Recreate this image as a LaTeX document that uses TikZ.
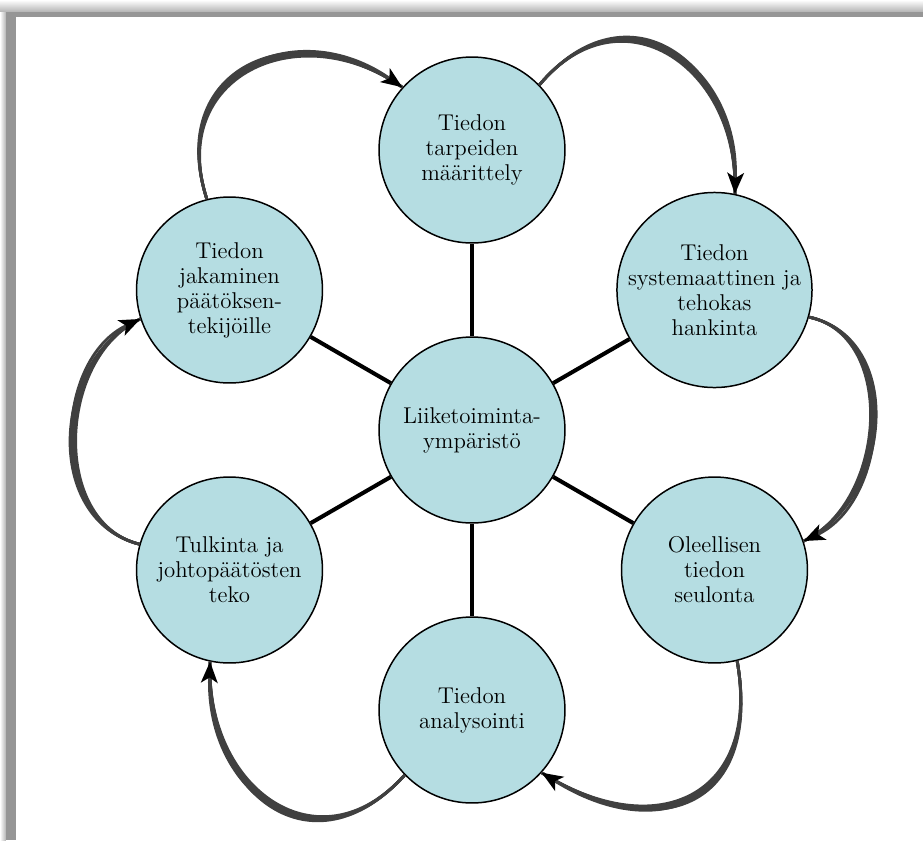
\documentclass[tikz,border=0pt]{standalone}
\usetikzlibrary{arrows.meta,shadings}

\begin{document}
\begin{tikzpicture}[x=0.02cm,y=0.02cm]

\newcommand{\kaari}[5]{%
  \foreach \dl in {-0.045,-0.015,0.015,0.045}
    \draw[kaariohut] (#1) to[out=#3,in=#4,looseness=#5+\dl] (#2);
  \draw[kaaristl] (#1) to[out=#3,in=#4,looseness=#5] (#2);
}

  \definecolor{ympcol}{RGB}{181,221,226}
  \definecolor{kaaricol}{RGB}{64,64,64}
  \definecolor{randcol}{RGB}{150,150,150}

 \tikzset{
      vaihestl/.style={circle,draw=black,line width=0.85pt,fill=ympcol,
        minimum size=3.72cm,inner sep=0pt,align=center,
        font=\fontsize{13}{14.2}\selectfont},
      puolastl/.style={line width=2.3pt,black},
      kaaristl/.style={line width=1.6pt,kaaricol,
        -{Stealth[length=12pt,width=9.5pt,inset=3pt,color=black]}},
      kaariohut/.style={line width=1.6pt,kaaricol},
    }

 % frame with a soft shadow along the top and left
 \useasboundingbox (-472,-410) rectangle (451,430);
 \shade[top color=white,bottom color=gray!60] (-472,418) rectangle (451,430);
 \shade[left color=white,right color=gray!60] (-472,-410) rectangle (-466,418);
 \fill[randcol] (-466,-410) rectangle (451,418);
 \fill[white] (-456,-410) rectangle (451,413);

 \node[vaihestl] (ymp) at (0,0) {Liiketoiminta-\\ympäristö};

 \node[vaihestl] (t0) at (90:280) {Tiedon\\tarpeiden\\määrittely};
 \node[vaihestl] (t1) at (30:280) {Tiedon\\systemaattinen ja\\tehokas\\hankinta};
 \node[vaihestl] (t2) at (-30:280) {Oleellisen\\tiedon\\seulonta};
 \node[vaihestl] (t3) at (-90:280) {Tiedon\\analysointi};
 \node[vaihestl] (t4) at (-150:280) {Tulkinta ja\\johtopäätösten\\teko};
 \node[vaihestl] (t5) at (150:280) {Tiedon\\jakaminen\\päätöksen-\\tekijöille};

 \foreach \t in {t0,t1,t2,t3,t4,t5}
   \draw[puolastl] (ymp) -- (\t);

 % the cycle round the outside
 \kaari{t0.44}{t1.78}{50}{88}{1.5}
 \kaari{t1.-16}{t2.18}{-12}{25}{1.08}
 \kaari{t2.-76}{t3.-42}{-80}{-32}{1.6}
 \kaari{t3.-136}{t4.-102}{-132}{-92}{1.5}
 \kaari{t4.164}{t5.198}{166}{205}{1.08}
 \kaari{t5.104}{t0.138}{108}{145}{1.5}
\end{tikzpicture}
\end{document}
